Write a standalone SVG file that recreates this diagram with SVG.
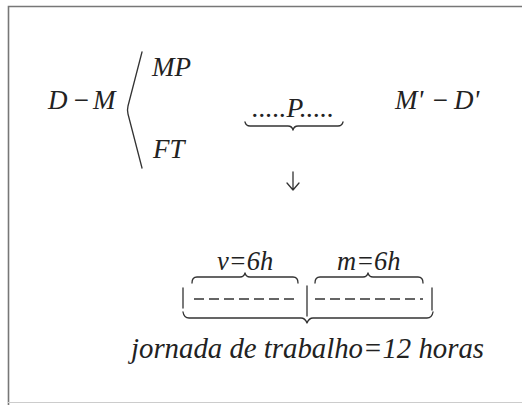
<svg xmlns="http://www.w3.org/2000/svg" width="522" height="405" viewBox="0 0 522 405">
<style>
.ln{fill:none;stroke:#333;stroke-width:1.3;stroke-linecap:round;stroke-linejoin:round}
.dash{stroke-dasharray:10 5;stroke-linecap:butt}
</style>
<rect width="522" height="405" fill="#fff"/>
<g id="frame" fill="none">
<path d="M8.5,405 V6.5 H522" stroke="#777" stroke-width="1.6"/>
<path d="M8,402.5 H522" stroke="#ccc" stroke-width="1.2"/>
</g>
<g id="texts" font-family="Liberation Serif" font-style="italic" font-size="27" fill="#222">
<g id="dm"><text y="109"><tspan x="48">D</tspan><tspan x="72">−</tspan><tspan x="93">M</tspan></text></g>
<g id="mp"><text x="152" y="76">MP</text></g>
<g id="ft"><text x="153" y="158">FT</text></g>
<g id="p"><text x="252" y="117" font-size="27.5">.....P.....</text></g>
<g id="md"><text y="109"><tspan x="395">M'</tspan><tspan x="431">−</tspan><tspan x="454">D'</tspan></text></g>
<g id="v"><text x="217" y="270" font-size="26.5">v=6h</text></g>
<g id="m"><text x="337" y="270" font-size="26.5">m=6h</text></g>
<g id="jornada"><text x="131" y="358" font-size="28.8">jornada de trabalho=12 horas</text></g>
</g>
<g id="braces">
<path class="ln" d="M142,52 L128,106 Q127,110 128,114 L142,168"/>
<path class="ln" d="M245,122 Q246,126 250,126 L288,126 Q292,126 293,130 Q294,126 298,126 L338,126 Q342,126 343,122"/>
<path class="ln" d="M192,283 Q192,277 197,277 L240,277 Q244,277 245,273 Q246,277 250,277 L293,277 Q298,277 298,283"/>
<path class="ln" d="M315,283 Q315,277 320,277 L363,277 Q367,277 368,273 Q369,277 373,277 L418,277 Q423,277 423,283"/>
<path class="ln" d="M183,288 V308 M307,286 V316 M432,288 V310"/>
<path class="ln" d="M183,312 Q184,318 189,318 L301,318 Q305,318 307,323 Q309,318 313,318 L427,318 Q432,318 433,312"/>
<path class="ln dash" d="M194,299 H298 M315,299 H423"/>
</g>
<g id="connectors">
<path class="ln" d="M293,172 V190 M287,183 L293,190 L299,183"/>
</g>
</svg>
